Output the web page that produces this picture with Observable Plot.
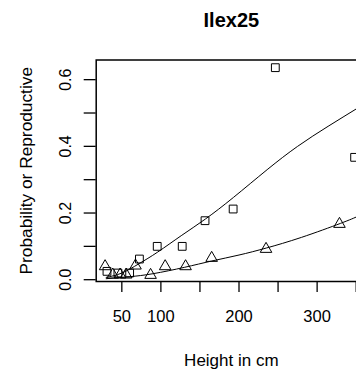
<!DOCTYPE html>
<html>
<head>
<meta charset="utf-8">
<script src="https://cdn.jsdelivr.net/npm/d3@7"></script>
<script src="https://cdn.jsdelivr.net/npm/@observablehq/plot@0.6"></script>
<style>
  html, body { margin: 0; padding: 0; background: white; overflow: hidden; }
</style>
</head>
<body>
<div id="chart"></div>
<script>
// Observed proportions by height class (squares: reproductive, triangles: second series)
const squareHeight = [31, 45, 60, 72.5, 95.3, 127.3, 156.5, 192.5, 246.5, 348];
const squareProb   = [0.025, 0.02, 0.02, 0.062, 0.1, 0.1, 0.177, 0.212, 0.636, 0.367];

const triHeight = [28.6, 38.5, 47.8, 55.5, 67.5, 86.8, 105.5, 131.6, 165, 234.6, 328.6];
const triProb   = [0.04, 0.015, 0.015, 0.015, 0.042, 0.014, 0.04, 0.04, 0.065, 0.092, 0.167];

// Fitted curves
const upperHeight = [30, 50, 72, 96, 126, 157, 193, 236, 275, 314, 352];
const upperProb   = [0.007, 0.02, 0.048, 0.083, 0.132, 0.182, 0.247, 0.33, 0.40, 0.46, 0.515];

const lowerHeight = [30, 60, 90, 130, 165, 200, 235, 280, 330, 352];
const lowerProb   = [0.003, 0.009, 0.018, 0.037, 0.056, 0.074, 0.095, 0.127, 0.169, 0.19];

// Axis ticks
const xTicks = [50, 100, 150, 200, 250, 300, 350];
const xTickLabels = [50, 100, 200, 300];
const yTicks = [0, 0.1, 0.2, 0.3, 0.4, 0.5, 0.6];
const yTickLabels = [0, 0.2, 0.4, 0.6];

const titleText = "Ilex25";
const xTitle = "Height in cm";
const yTitle = "Probability or Reproductive";

const squares = squareHeight.map((h, i) => ({h, p: squareProb[i]}));
const triangles = triHeight.map((h, i) => ({h, p: triProb[i]}));
const upper = upperHeight.map((h, i) => ({h, p: upperProb[i]}));
const lower = lowerHeight.map((h, i) => ({h, p: lowerProb[i]}));

const font = "'Liberation Sans', Arial, Helvetica, sans-serif";

const chart = Plot.plot({
  width: 356,
  height: 370,
  marginLeft: 95.7,
  marginRight: -10,
  marginTop: 59.5,
  marginBottom: 89,
  style: {overflow: "hidden", background: "white", fontFamily: font, color: "black"},
  x: {domain: [17.2, 363.2], label: null},
  y: {domain: [-0.0054, 0.659], label: null},
  marks: [
    Plot.frame({stroke: "black", strokeWidth: 1.5}),
    Plot.axisX({
      ticks: xTicks, tickSize: 11, tickPadding: 18, strokeWidth: 1.3,
      fontSize: 16.5, label: null,
      tickFormat: d => xTickLabels.includes(d) ? String(d) : ""
    }),
    Plot.axisY({
      ticks: yTicks, tickSize: 12, strokeWidth: 1.3, label: null,
      tickFormat: () => ""
    }),
    Plot.text(yTickLabels, {
      y: d => d, text: d => d.toFixed(1), frameAnchor: "left",
      rotate: -90, textAnchor: "middle", lineAnchor: "bottom",
      dx: -25, fontSize: 16, fill: "black"
    }),
    Plot.line(upper, {x: "h", y: "p", curve: "natural", stroke: "black", strokeWidth: 1}),
    Plot.line(lower, {x: "h", y: "p", curve: "natural", stroke: "black", strokeWidth: 1}),
    Plot.dot(squares, {x: "h", y: "p", symbol: "square", r: 4.4, stroke: "black", fill: "none", strokeWidth: 1}),
    Plot.dot(triangles, {x: "h", y: "p", symbol: "triangle", r: 4.3, stroke: "black", fill: "none", strokeWidth: 1}),
    Plot.text([titleText], {
      text: d => d, frameAnchor: "top", lineAnchor: "bottom",
      dy: -32.8, fontSize: 20, fontWeight: "bold", fill: "black"
    }),
    Plot.text([xTitle], {
      text: d => d, frameAnchor: "bottom", lineAnchor: "bottom",
      dy: 84.7, fontSize: 17, fill: "black"
    }),
    Plot.text([yTitle], {
      text: d => d, frameAnchor: "left", rotate: -90,
      textAnchor: "middle", lineAnchor: "bottom",
      dx: -64.7, fontSize: 17.3, fill: "black"
    })
  ]
});

document.getElementById("chart").appendChild(chart);
</script>
</body>
</html>
